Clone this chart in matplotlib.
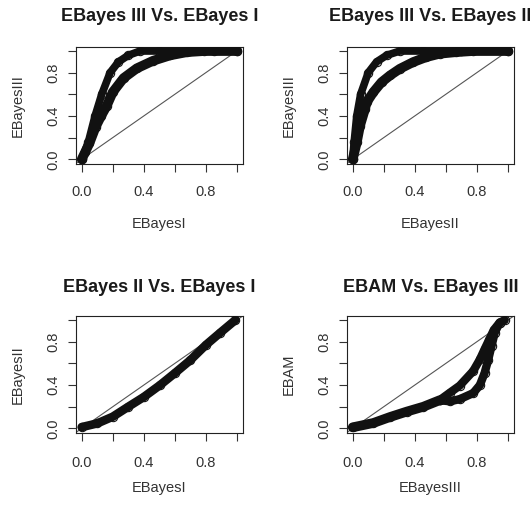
import matplotlib
matplotlib.use("Agg")
import matplotlib.pyplot as plt

plt.rcParams['font.family'] = ['Liberation Sans', 'DejaVu Sans']

# EBayes III vs EBayes I (two branches)
p1_upper_x = [0.0, 0.02, 0.043, 0.086, 0.129, 0.183, 0.237, 0.30, 0.376, 0.5, 0.7, 0.85, 1.0]
p1_upper_y = [0.0, 0.07, 0.16, 0.40, 0.60, 0.80, 0.90, 0.96, 1.0, 1.0, 1.0, 1.0, 1.0]
p1_lower_x = [0.0, 0.05, 0.09, 0.125, 0.16, 0.20, 0.27, 0.355, 0.46, 0.57, 0.68, 0.79, 1.0]
p1_lower_y = [0.0, 0.15, 0.30, 0.40, 0.49, 0.62, 0.75, 0.84, 0.91, 0.96, 0.99, 1.0, 1.0]

# EBayes III vs EBayes II
p2_upper_x = [0.0, 0.009, 0.026, 0.051, 0.10, 0.154, 0.218, 0.304, 0.45, 0.7, 1.0]
p2_upper_y = [0.0, 0.155, 0.40, 0.60, 0.80, 0.90, 0.96, 1.0, 1.0, 1.0, 1.0]
p2_lower_x = [0.0, 0.026, 0.047, 0.079, 0.09, 0.133, 0.186, 0.24, 0.304, 0.39, 0.475, 0.56, 0.668, 0.775, 1.0]
p2_lower_y = [0.0, 0.155, 0.31, 0.464, 0.526, 0.62, 0.712, 0.774, 0.836, 0.898, 0.944, 0.975, 0.99, 1.0, 1.0]

# EBayes II vs EBayes I
p3_x = [0.0, 0.1, 0.2, 0.30, 0.40, 0.505, 0.6, 0.70, 0.8, 0.89, 0.99]
p3_y = [0.012, 0.046, 0.108, 0.2, 0.29, 0.40, 0.51, 0.63, 0.77, 0.88, 1.0]

# EBAM vs EBayes III (common trunk, then two branches)
p4_trunk_x = [0.0, 0.133, 0.24, 0.348, 0.455, 0.56]
p4_trunk_y = [0.01, 0.05, 0.105, 0.155, 0.2, 0.26]
p4_upper_x = [0.56, 0.627, 0.69, 0.777, 0.82, 0.85, 0.88, 0.91, 0.948, 0.98]
p4_upper_y = [0.26, 0.33, 0.395, 0.53, 0.637, 0.73, 0.82, 0.91, 0.978, 1.0]
p4_lower_x = [0.56, 0.627, 0.69, 0.777, 0.82, 0.85, 0.873, 0.895, 0.916, 0.948]
p4_lower_y = [0.26, 0.25, 0.27, 0.326, 0.40, 0.51, 0.63, 0.76, 0.885, 0.978]

# (title, x label, y label, [(x, y, band width in pt), ...])
panels = [
    ("EBayes III Vs. EBayes I", "EBayesI", "EBayesIII",
     [(p1_upper_x, p1_upper_y, 5.5), (p1_lower_x, p1_lower_y, 7.0)]),
    ("EBayes III Vs. EBayes II", "EBayesII", "EBayesIII",
     [(p2_upper_x, p2_upper_y, 5.5), (p2_lower_x, p2_lower_y, 7.0)]),
    ("EBayes II Vs. EBayes I", "EBayesI", "EBayesII",
     [(p3_x, p3_y, 6.2)]),
    ("EBAM Vs. EBayes III", "EBayesIII", "EBAM",
     [(p4_trunk_x, p4_trunk_y, 7.0), (p4_upper_x, p4_upper_y, 6.0),
      (p4_lower_x, p4_lower_y, 6.0)]),
]

ticks = [0.0, 0.2, 0.4, 0.6, 0.8, 1.0]
tick_labels = ["0.0", "", "0.4", "", "0.8", ""]

fig = plt.figure(figsize=(5.30, 5.07), dpi=100)

col_left = [0.1425, 0.6538]
row_bottom = [0.6773, 0.1465]
width, height = 0.316, 0.2306
title_y = [1.224, 1.1995]
xlabel_y = [-0.517, -0.473]
xtick_pad = [9.4, 11.0]

ink = "#111111"
text_col = "#333333"

for i, (title, xlab, ylab, curves) in enumerate(panels):
    r, c = divmod(i, 2)
    ax = fig.add_axes([col_left[c], row_bottom[r], width, height])

    for xs, ys, lw in curves:
        ax.plot(xs, ys, color=ink, lw=lw, solid_capstyle="round",
                solid_joinstyle="round", zorder=3)
        ax.plot(xs, ys, ls="none", marker="o", ms=6, mfc="none",
                mec=ink, mew=0.8, zorder=4)

    ax.axline((0, 0), slope=1, color="#555555", lw=0.8, zorder=2)

    ax.set_xlim(-0.04, 1.04)
    ax.set_ylim(-0.04, 1.04)
    ax.set_xticks(ticks, tick_labels)
    ax.set_yticks(ticks, tick_labels, rotation=90, va="center")
    ax.tick_params(axis="both", length=5.8, width=0.8, color="#333333",
                   labelsize=10.5, labelcolor=text_col)
    ax.tick_params(axis="x", pad=xtick_pad[r])
    ax.tick_params(axis="y", pad=5.0)
    for sp in ax.spines.values():
        sp.set_color("#222222")
        sp.set_linewidth(0.8)

    ax.set_title(title, fontsize=13, fontweight="bold", color="#1a1a1a",
                 y=title_y[r], va="baseline", pad=0)
    ax.set_xlabel(xlab, fontsize=10.5, color=text_col, va="center")
    ax.xaxis.set_label_coords(0.5, xlabel_y[r])
    ax.set_ylabel(ylab, fontsize=10.5, color=text_col, va="center")
    ax.yaxis.set_label_coords(-0.3435, 0.5)

fig.savefig("out.png", dpi=100, facecolor="white")
